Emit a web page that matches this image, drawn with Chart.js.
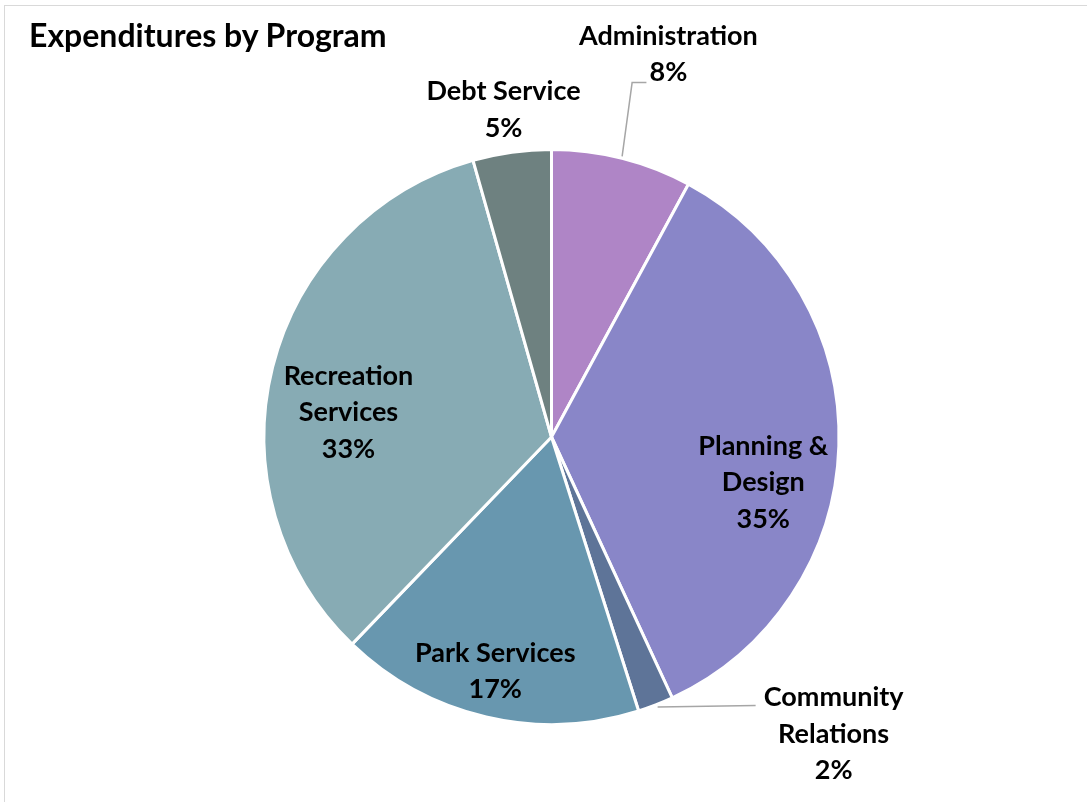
<!DOCTYPE html>
<html>
<head>
<meta charset="utf-8">
<script src="https://cdn.jsdelivr.net/npm/chart.js@4/dist/chart.umd.min.js"></script>
<style>
  html, body { margin: 0; padding: 0; background: #fff; }
  #wrap { position: relative; width: 1087px; height: 802px; overflow: hidden; }
  #frame { position: absolute; left: 4px; top: 5px; width: 1200px; height: 900px; border: 1px solid #d9d9d9; box-sizing: border-box; }
  #title { position: absolute; left: 29px; top: 15px; font: bold 32px Lato, "Open Sans", sans-serif; color: #000; }
  #pie { position: absolute; left: 0; top: 0; }
</style>
</head>
<body>
<div id="wrap">
  <div id="frame"></div>
  <canvas id="pie" width="1087" height="802"></canvas>
  <div id="title">Expenditures by Program</div>
</div>
<script>
// slices, clockwise from 12 o'clock
const programs = ['Administration', 'Planning & Design', 'Community Relations', 'Park Services', 'Recreation Services', 'Debt Service'];
const shares = [7.9, 35.2, 2.0, 17.1, 33.4, 4.4];
const shareLabels = ['8%', '35%', '2%', '17%', '33%', '5%'];
const labelLines = [['Administration'], ['Planning &', 'Design'], ['Community', 'Relations'], ['Park Services'], ['Recreation', 'Services'], ['Debt Service']];
const sliceColors = ['#AF85C6', '#8986C8', '#5E7498', '#6897AF', '#87ABB4', '#6E8180'];

// where each label sits: fraction of the radius along the slice middle, plus a nudge
const labelPlace = [
  { f: 1.33, dx: 23, dy: -12, leader: 'admin' },
  { f: 0.73, dx: 2, dy: 39 },
  { f: 1.0, dx: 178, dy: 29, leader: 'side' },
  { f: 0.83, dx: -2, dy: 2 },
  { f: 0.71, dx: -5, dy: 25 },
  { f: 1.16, dx: -2, dy: 3 }
];

const pieLabels = {
  id: 'pieLabels',
  afterDatasetsDraw(chart) {
    const ctx = chart.ctx;
    const arcs = chart.getDatasetMeta(0).data;
    ctx.save();
    ctx.font = 'bold 27px Lato, "Open Sans", sans-serif';
    ctx.fillStyle = '#000';
    ctx.textAlign = 'center';
    ctx.textBaseline = 'middle';
    arcs.forEach((arc, i) => {
      const p = arc.getProps(['x', 'y', 'startAngle', 'endAngle', 'outerRadius']);
      const mid = (p.startAngle + p.endAngle) / 2;
      const place = labelPlace[i];
      const cx = p.x + Math.cos(mid) * p.outerRadius * place.f + place.dx;
      const cy = p.y + Math.sin(mid) * p.outerRadius * place.f + place.dy;
      const lines = labelLines[i].concat([shareLabels[i]]);
      const lh = 36.5;
      const top = cy - (lines.length - 1) * lh / 2;

      const ex = p.x + Math.cos(mid) * p.outerRadius;
      const ey = p.y + Math.sin(mid) * p.outerRadius;
      ctx.strokeStyle = '#a6a6a6';
      ctx.lineWidth = 1.5;
      if (place.leader === 'admin') {
        const ly = top + lh + 10;
        ctx.beginPath();
        ctx.moveTo(ex, ey - 2);
        ctx.lineTo(ex + 10, ly);
        ctx.lineTo(cx - 22, ly);
        ctx.stroke();
      } else if (place.leader === 'side') {
        ctx.beginPath();
        ctx.moveTo(ex + 2, ey + 2);
        ctx.lineTo(cx - 78, top + 8);
        ctx.stroke();
      }
      lines.forEach((t, k) => ctx.fillText(t, cx, top + k * lh));
    });
    ctx.restore();
  }
};

new Chart(document.getElementById('pie'), {
  type: 'pie',
  data: {
    labels: programs,
    datasets: [{
      data: shares,
      backgroundColor: sliceColors,
      borderColor: '#ffffff',
      borderWidth: 3
    }]
  },
  options: {
    responsive: false,
    animation: false,
    layout: { padding: { left: 16, right: 0, top: 148, bottom: 76 } },
    plugins: {
      legend: { display: false },
      tooltip: { enabled: false }
    }
  },
  plugins: [pieLabels]
});
</script>
</body>
</html>
